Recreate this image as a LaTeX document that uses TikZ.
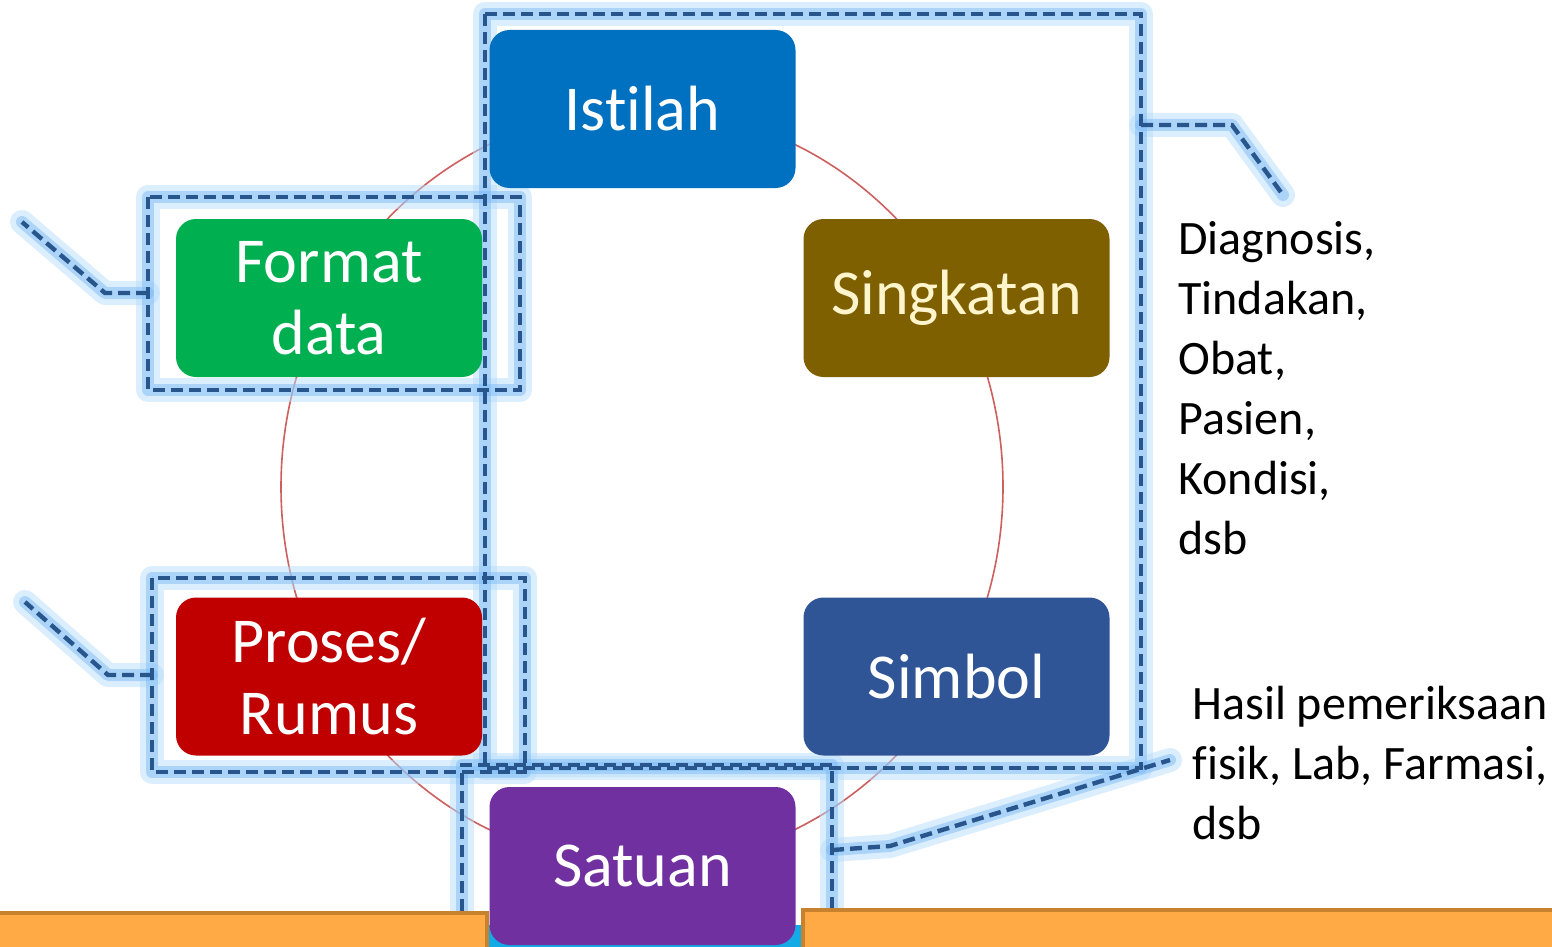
\documentclass[tikz,border=0pt]{standalone}
\usepackage{fontspec}
\setmainfont{Carlito}[Ligatures=NoCommon]
\definecolor{cIstilah}{RGB}{0,112,192}
\definecolor{cFormat}{RGB}{0,176,80}
\definecolor{cSingkatan}{RGB}{127,96,0}
\definecolor{cProses}{RGB}{192,0,0}
\definecolor{cSimbol}{RGB}{47,85,151}
\definecolor{cSatuan}{RGB}{112,48,160}
\definecolor{dashc}{RGB}{40,85,140}
\definecolor{glowa}{RGB}{185,222,252}
\definecolor{glowb}{RGB}{125,188,245}
\definecolor{ringc}{RGB}{205,95,95}
\definecolor{orangef}{RGB}{255,170,68}
\definecolor{oranged}{RGB}{200,130,45}
\definecolor{cyanb}{RGB}{20,170,230}
\definecolor{creamt}{RGB}{255,245,205}
\begin{document}
\begin{tikzpicture}[x=0.5pt,y=-0.5pt,
  box/.style={rounded corners=10pt, minimum width=153pt, minimum height=79pt,
    text=white, font=\fontsize{32}{36}\selectfont, align=center, inner sep=0pt},
  glowwide/.style={line width=12pt, draw=glowa, opacity=0.5, line join=round, line cap=round},
  glownarrow/.style={line width=6pt, draw=glowb, opacity=0.5, line join=round, line cap=round},
  dline/.style={draw=dashc, line width=2.2pt, dash pattern=on 6pt off 3pt},
  sidetext/.style={align=left, inner sep=0pt, text=black, font=\fontsize{24}{30}\selectfont},
  bar/.style={fill=orangef, draw=oranged, line width=2pt}
]
\useasboundingbox (0,0) rectangle (1552,947);
\fill[white] (0,0) rectangle (1552,947);

% named points of the dashed frames
\coordinate (r1a) at (485,14);   \coordinate (r1b) at (1141,768);
\coordinate (r2a) at (148,197);  \coordinate (r2b) at (520,390);
\coordinate (r3a) at (152,578);  \coordinate (r3b) at (525,772);
\coordinate (r4l) at (462,947);  \coordinate (r4tl) at (462,765);
\coordinate (r4tr) at (832,765); \coordinate (r4r) at (832,947);
% bracket points
\coordinate (b1s) at (1141,125); \coordinate (b1m) at (1232,125); \coordinate (b1e) at (1283,195);
\coordinate (b2s) at (148,293);  \coordinate (b2m) at (105,293);  \coordinate (b2e) at (22,222);
\coordinate (b3s) at (152,675);  \coordinate (b3m) at (108,675);  \coordinate (b3e) at (25,602);
\coordinate (b4s) at (832,850);  \coordinate (b4m) at (890,846);  \coordinate (b4e) at (1170,760);

% cycle ring
\draw[ringc, line width=0.8pt] (642,487) ellipse [x radius=361, y radius=378];

% glow under dashed frames
\foreach \g in {glowwide,glownarrow}{
  \draw[\g] (r1a) rectangle (r1b);
  \draw[\g] (r2a) rectangle (r2b);
  \draw[\g] (r3a) rectangle (r3b);
  \draw[\g] (r4l) -- (r4tl) -- (r4tr) -- (r4r);
  \draw[\g] (b1s) -- (b1m) -- (b1e);
  \draw[\g] (b2s) -- (b2m) -- (b2e);
  \draw[\g] (b3s) -- (b3m) -- (b3e);
  \draw[\g] (b4s) -- (b4m) -- (b4e);
}
\fill[cyanb] (480,925) rectangle (810,947);

% boxes
\node[box, fill=cIstilah]   (istilah)   at (642.5,109)  {Istilah};
\node[box, fill=cFormat]    (format)    at (329,298)    {Format\\data};
\node[box, fill=cSingkatan, text=creamt] (singkatan) at (956.5,298)  {Singkatan};
\node[box, fill=cProses]    (proses)    at (329,676.5)  {Proses/\\Rumus};
\node[box, fill=cSimbol]    (simbol)    at (956.5,676.5){Simbol};
\node[box, fill=cSatuan]    (satuan)    at (642.5,866)  {Satuan};

% dashed frames
\draw[dline] (r1a) rectangle (r1b);
\draw[dline] (r2a) rectangle (r2b);
\draw[dline] (r3a) rectangle (r3b);
\draw[dline] (r4l) -- (r4tl) -- (r4tr) -- (r4r);
\draw[dline] (b1s) -- (b1m) -- (b1e);
\draw[dline] (b2s) -- (b2m) -- (b2e);
\draw[dline] (b3s) -- (b3m) -- (b3e);
\draw[dline] (b4s) -- (b4m) -- (b4e);

% side texts
\node[sidetext, anchor=north west] (list1) at (1178,221)
  {Diagnosis,\\Tindakan,\\Obat,\\Pasien,\\Kondisi,\\dsb};
\node[sidetext, anchor=north west] (list2) at (1192,686)
  {Hasil pemeriksaan\\fisik, Lab, Farmasi,\\dsb};

% orange bars
\draw[bar] (-5,913) rectangle (487,955);
\draw[bar] (803,910) rectangle (1560,955);
\end{tikzpicture}
\end{document}
